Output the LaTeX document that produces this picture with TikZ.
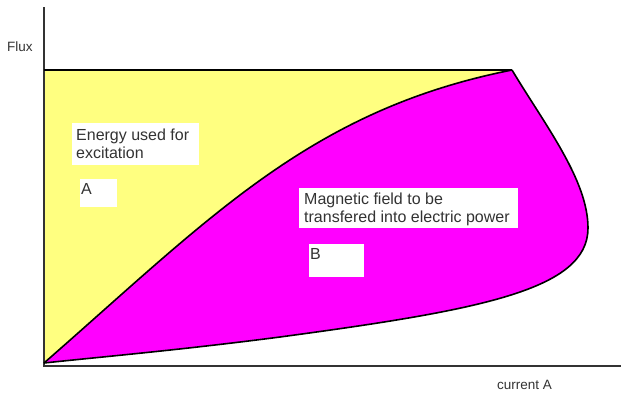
\documentclass[tikz,border=0pt]{standalone}
\usepackage{fontspec}
\setmainfont{Liberation Sans}
\definecolor{yel}{HTML}{FFFF80}
\definecolor{mag}{HTML}{FF00FF}
\definecolor{axisgray}{HTML}{333333}
\begin{document}
\begin{tikzpicture}[x=1bp,y=-1bp,
  curve/.style={draw=black,line width=1.6bp,line join=round},
  axis/.style={draw=axisgray,line width=1.3bp},
  label/.style={inner sep=0,anchor=base west,text=black!80,font=\fontsize{13.5bp}{16bp}\selectfont},
  boxtext/.style={inner sep=0,anchor=base west,text=black!80,font=\fontsize{16bp}{18bp}\selectfont},
  whitebox/.style={fill=white}]
\useasboundingbox (0,0) rectangle (621,394);
\coordinate (O) at (44,363);
\coordinate (T) at (512,70);
\coordinate (TL) at (44,70);
\coordinate (R) at (588,228);
\coordinate (L) at (280,337);
% yellow region
\fill[yel] (O) -- (TL) -- (T) .. controls (310,110) and (210,218) .. (O) -- cycle;
% magenta region
\fill[mag] (O) .. controls (210,218) and (310,110) .. (T)
  .. controls (545,125) and (588,180) .. (R)
  .. controls (588,290) and (480,310) .. (L)
  .. controls (180,350) and (100,357) .. (O) -- cycle;
% axes
\coordinate (ytop) at (44,7);
\coordinate (xo) at (44,366);
\coordinate (xend) at (621,366);
\draw[axis] (ytop) -- (xo) -- (xend);
% top line
\draw[curve] (TL) -- (T);
% curves
\draw[curve] (O) .. controls (210,218) and (310,110) .. (T);
\draw[curve] (T) .. controls (545,125) and (588,180) .. (R)
  .. controls (588,290) and (480,310) .. (L)
  .. controls (180,350) and (100,357) .. (O);
% axis labels
\node[label] (flux) at (7,51) {Flux};
\node[label] (cur) at (497,389) {current A};
% boxes
\fill[whitebox] (72,123) rectangle (199,165);
\node[boxtext] (e1) at (76,140) {Energy used for};
\node[boxtext] (e2) at (76,158) {excitation};
\fill[whitebox] (80,179) rectangle (117,207);
\node[boxtext] (a) at (81,194) {A};
\fill[whitebox] (299,188) rectangle (518,228);
\node[boxtext] (m1) at (304,204) {Magnetic field to be};
\node[boxtext] (m2) at (304,222) {transfered into electric power};
\fill[whitebox] (309,244) rectangle (364,277);
\node[boxtext] (b) at (310,259) {B};
\end{tikzpicture}
\end{document}
